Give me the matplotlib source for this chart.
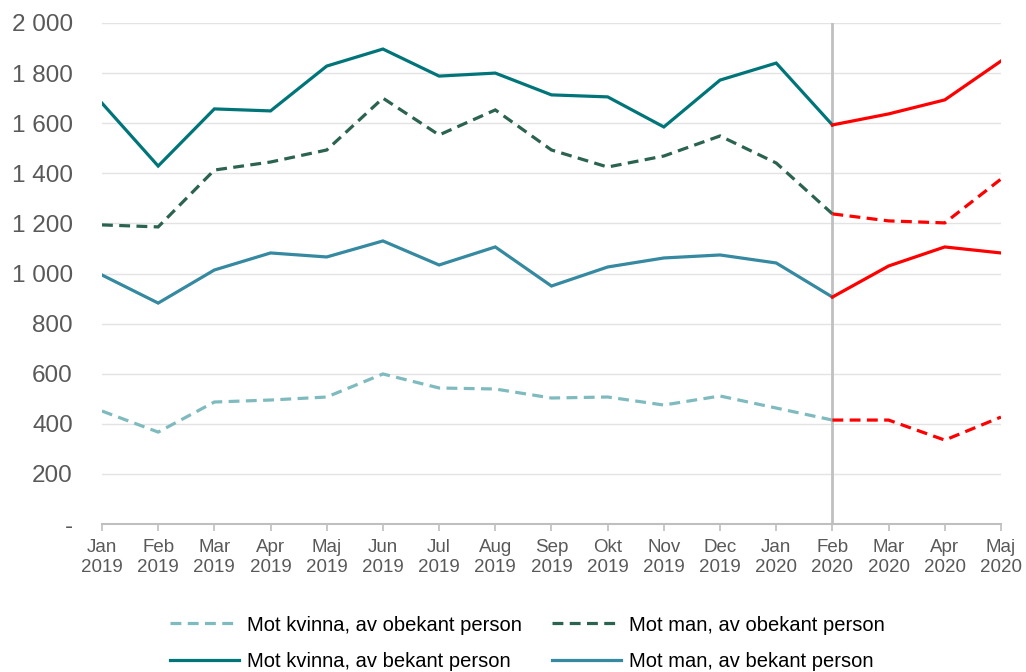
import matplotlib.pyplot as plt
from matplotlib import font_manager

months = ['Jan\n2019', 'Feb\n2019', 'Mar\n2019', 'Apr\n2019', 'Maj\n2019', 'Jun\n2019',
          'Jul\n2019', 'Aug\n2019', 'Sep\n2019', 'Okt\n2019', 'Nov\n2019', 'Dec\n2019',
          'Jan\n2020', 'Feb\n2020', 'Mar\n2020', 'Apr\n2020', 'Maj\n2020']

# monthly counts, Jan 2019 - Maj 2020
kvinna_obekant = [451, 367, 487, 495, 507, 599, 543, 539, 503, 507, 475, 511, 463, 415, 415, 335, 427]
man_obekant    = [1194, 1186, 1413, 1445, 1493, 1700, 1553, 1653, 1493, 1425, 1469, 1549, 1441, 1238, 1210, 1202, 1377]
kvinna_bekant  = [1680, 1429, 1657, 1649, 1828, 1896, 1788, 1800, 1713, 1705, 1585, 1772, 1840, 1593, 1637, 1693, 1848]
man_bekant     = [994, 882, 1014, 1082, 1066, 1130, 1034, 1106, 950, 1026, 1062, 1074, 1042, 906, 1030, 1106, 1082]

split = 13  # Feb 2020, from here on drawn in red
yticks = [0, 200, 400, 600, 800, 1000, 1200, 1400, 1600, 1800, 2000]
ytick_labels = ['-', '200', '400', '600', '800', '1 000', '1 200', '1 400', '1 600', '1 800', '2 000']

names = {f.name for f in font_manager.fontManager.ttflist}
font = 'Liberation Sans' if 'Liberation Sans' in names else 'DejaVu Sans'
plt.rcParams['font.family'] = font

fig = plt.figure(figsize=(10.26, 6.72), dpi=100)
ax = fig.add_axes([0.0994, 0.2202, 0.8762, 0.7456])

x = list(range(len(months)))
dash = (3.4, 2.0)
lw = 2.3

series = [
    (kvinna_obekant, '#7fbbbe', True, 'Mot kvinna, av obekant person'),
    (kvinna_bekant, '#007579', False, 'Mot kvinna, av bekant person'),
    (man_obekant, '#2b6350', True, 'Mot man, av obekant person'),
    (man_bekant, '#3589a0', False, 'Mot man, av bekant person'),
]

handles = []
for vals, color, dashed, label in series:
    kw = dict(linewidth=lw, solid_joinstyle='miter', dash_joinstyle='miter')
    if dashed:
        kw['dashes'] = dash
    h, = ax.plot(x[:split + 1], vals[:split + 1], color=color, label=label, **kw)
    ax.plot(x[split:], vals[split:], color='#ff0000', **kw)
    handles.append(h)

ax.axvline(split, color='#c0c0c0', linewidth=2, zorder=1)

ax.set_xlim(0, len(months) - 1)
ax.set_ylim(0, 2000)
ax.set_yticks(yticks)
ax.set_yticklabels(ytick_labels)
ax.set_xticks(x)
ax.set_xticklabels(months)

ax.grid(axis='y', color='#e3e3e3', linewidth=1)
ax.set_axisbelow(True)
for s in ['top', 'right', 'left']:
    ax.spines[s].set_visible(False)
ax.spines['bottom'].set_color('#bfbfbf')
ax.spines['bottom'].set_linewidth(1.5)
ax.tick_params(axis='y', length=0, pad=21, labelsize=17.5, labelcolor='#595959')
ax.tick_params(axis='x', length=5, width=1.2, color='#bfbfbf', pad=6,
               labelsize=13.5, labelcolor='#595959')

fig.legend(handles=handles, loc='center', bbox_to_anchor=(0.514, 0.043), ncol=2,
           frameon=False, fontsize=14.5, handlelength=3.4, handletextpad=0.4,
           columnspacing=1.5, labelspacing=0.85)

fig.savefig('out.png', dpi=100)
